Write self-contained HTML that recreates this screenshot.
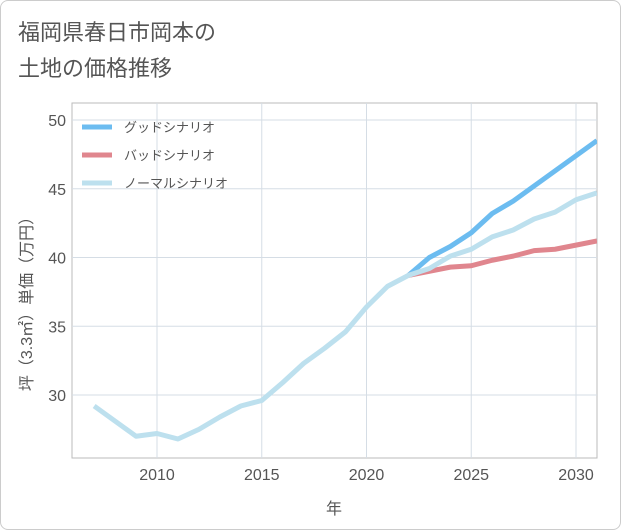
<!DOCTYPE html>
<html><head><meta charset="utf-8"><style>
body{margin:0;background:#fff;font-family:"Liberation Sans","Noto Sans CJK JP",sans-serif}
#wrap{position:relative;width:621px;height:530px;overflow:hidden}
.frame{position:absolute;left:0;top:0;width:619px;height:528px;border:1px solid #ccc;border-radius:8px}
</style></head><body>
<div id="wrap">
<div class="frame"></div>
<svg id="c" width="621" height="530" style="position:absolute;left:0;top:0"></svg>
</div>
<script>
const years=[2007,2008,2009,2010,2011,2012,2013,2014,2015,2016,2017,2018,2019,2020,2021,2022,2023,2024,2025,2026,2027,2028,2029,2030,2031];
const normal=[29.2,28.1,27.0,27.2,26.8,27.5,28.4,29.2,29.6,30.9,32.3,33.4,34.6,36.4,37.9,38.7,39.2,40.1,40.6,41.5,42.0,42.8,43.3,44.2,44.7];
const scenYears=[2022,2023,2024,2025,2026,2027,2028,2029,2030,2031];
const good=[38.7,40.0,40.8,41.8,43.2,44.1,45.2,46.3,47.4,48.5];
const bad=[38.7,39.0,39.3,39.4,39.8,40.1,40.5,40.6,40.9,41.2];
const xTicks=[2010,2015,2020,2025,2030];
const yTicks=[30,35,40,45,50];
const legendLabels=["グッドシナリオ","バッドシナリオ","ノーマルシナリオ"];
const NS="http://www.w3.org/2000/svg";
const svg=document.getElementById('c');
const L=72,R=597,T=103,B=458;
const x=v=>157+(v-2010)*20.95;
const y=v=>395-(v-30)*13.75;
function el(t,a,p){const e=document.createElementNS(NS,t);for(const k in a)e.setAttribute(k,a[k]);(p||svg).appendChild(e);return e;}
function tx(s,a){const e=el('text',a);e.textContent=s;return e;}
const t1=tx('福岡県春日市岡本の',{x:18,y:40,'font-size':22,fill:'#555'});

const t2=tx('土地の価格推移',{x:18,y:76,'font-size':22,fill:'#555'});

const bg=el('rect',{x:L,y:T,width:R-L,height:B-T,fill:'#fff',stroke:'#bbb'});

xTicks.forEach(v=>{const g=el('line',{x1:x(v),x2:x(v),y1:T,y2:B,stroke:'#d5dde5'});

const t=tx(v,{x:x(v),y:480,'font-size':16,fill:'#555','text-anchor':'middle'});
});
yTicks.forEach(v=>{const g=el('line',{x1:L,x2:R,y1:y(v),y2:y(v),stroke:'#d5dde5'});

const t=tx(v,{x:66,y:y(v)+6,'font-size':16,fill:'#555','text-anchor':'end'});
});
const xt=tx('年',{x:334,y:514,'font-size':16,fill:'#555','text-anchor':'middle'});

const yt=tx('坪（3.3㎡）単価（万円）',{x:0,y:0,'font-size':16,fill:'#555','text-anchor':'middle',transform:'translate(32,300) rotate(-90)'});

const cp=el('clipPath',{id:'cp'});el('rect',{x:L,y:T,width:R-L,height:B-T},cp);
function line(xs,vs,col,name){const p=el('path',{d:xs.map((v,i)=>(i?'L':'M')+x(v)+','+y(vs[i])).join(''),fill:'none',stroke:col,'stroke-width':5,'stroke-linejoin':'round','clip-path':'url(#cp)'});
}
line(scenYears,good,'#6cbcf0','good-scenario-line');
line(scenYears,bad,'#e0868e','bad-scenario-line');
line(years,normal,'#bde0ee','normal-scenario-line');
const cols=['#6cbcf0','#e0868e','#bde0ee'];
legendLabels.forEach((s,i)=>{const ly=127+i*28;
const l=el('line',{x1:82,x2:112,y1:ly,y2:ly,stroke:cols[i],'stroke-width':5});

const t=tx(s,{x:124,y:ly+5,'font-size':13,fill:'#555'});
});
</script>
</body></html>
